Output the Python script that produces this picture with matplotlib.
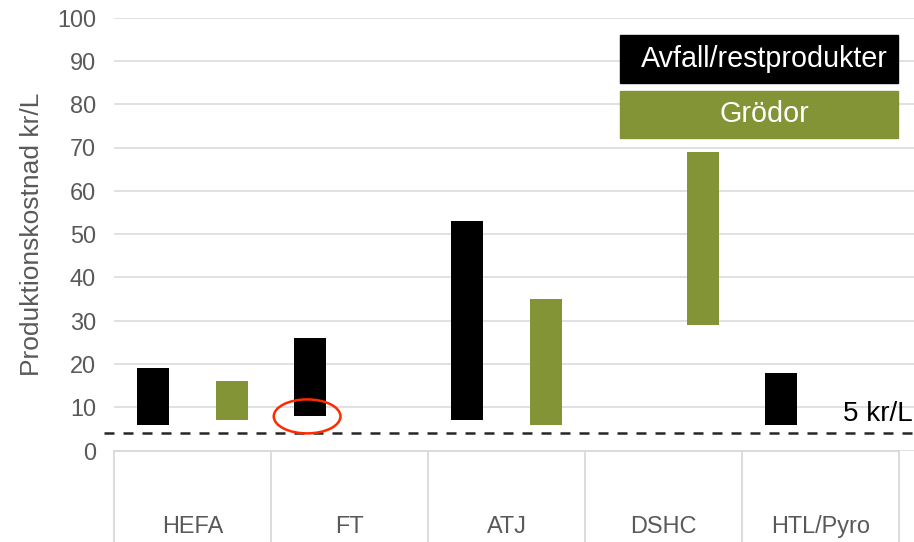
import numpy as np
import matplotlib
matplotlib.use("Agg")
import matplotlib.pyplot as plt
from matplotlib.patches import Ellipse, Rectangle

plt.rcParams['font.family'] = ['Liberation Sans', 'DejaVu Sans']

categories = ["HEFA", "FT", "ATJ", "DSHC", "HTL/Pyro"]
avfall_low = [5.8, 8, 7, np.nan, 5.8]
avfall_high = [19, 26, 53, np.nan, 18]
grodor_low = [7, np.nan, 5.8, 29, np.nan]
grodor_high = [16, np.nan, 35, 69, np.nan]
grans = 4.0  # streckad linje "5 kr/L"

svart = "#000000"
gron = "#839436"
grid = "#d9d9d9"
grå_text = "#595959"

W, H = 914, 542
fig = plt.figure(figsize=(W / 100, H / 100), dpi=100)
# axes: x 114..914 px, y 17.6..450.6 px
ax = fig.add_axes([114 / W, 1 - 450.6 / H, 800 / W, 433 / H])

n = len(categories)
x = np.arange(n)
bw = 32 / 157

lo = np.array(avfall_low)
hi = np.array(avfall_high)
ax.bar(x - 0.25, hi - lo, bottom=lo, width=bw, color=svart, zorder=3)
lo = np.array(grodor_low)
hi = np.array(grodor_high)
ax.bar(x + 0.25, hi - lo, bottom=lo, width=bw, color=gron, zorder=3)

ax.set_xlim(-0.5, -0.5 + 800 / 157)
ax.set_ylim(0, 100)
ax.set_yticks(np.arange(0, 101, 10))
ax.yaxis.grid(True, color=grid, lw=1.1, zorder=0)
ax.tick_params(axis='y', length=0, pad=13, labelsize=16.9, labelcolor=grå_text)
ax.set_xticks([])
for s in ax.spines.values():
    s.set_visible(False)

ax.set_ylabel("Produktionskostnad kr/L", fontsize=19, color=grå_text)
ax.yaxis.set_label_coords(-0.087, 0.5)

# kategori-axel med rutor
tr = ax.get_xaxis_transform()
depth = 92 / 433
ax.plot([-0.5, n - 0.5], [0, 0], color=grid, lw=1.3, transform=tr, clip_on=False)
for b in np.arange(n + 1) - 0.5:
    ax.plot([b, b], [0, -depth], color=grid, lw=1.3, transform=tr, clip_on=False)
for i, c in enumerate(categories):
    ax.text(i, -0.176, c, transform=tr, ha='center', va='center',
            fontsize=16.9, color=grå_text)

# 5 kr/L linje
ax.plot([-0.013, 1], [grans, grans], transform=ax.get_yaxis_transform(),
        color="#262626", lw=1.8, dashes=(4, 3.6), clip_on=False, zorder=4)
ax.text(0.998, grans + 1.5, "5 kr/L", transform=ax.get_yaxis_transform(),
        ha='right', va='bottom', fontsize=20, color="black")

# röd ellips runt FT
ax.add_patch(Ellipse((1 - 0.27, avfall_low[1] - 0.1), 0.425, 7.85, fill=False,
                     edgecolor="#ff2a00", lw=1.8, zorder=5))

# legend-rutor
for y0, y1, col, txt in [(35, 83, svart, "Avfall/restprodukter"),
                         (91, 138, gron, "Grödor")]:
    fig.patches.append(Rectangle((620 / W, 1 - y1 / H), 278 / W, (y1 - y0) / H,
                                 transform=fig.transFigure, color=col))
    fig.text(764 / W, 1 - (y0 + y1) / 2 / H, txt, ha='center', va='center',
             fontsize=20.7, color="white")

fig.savefig("out.png", dpi=100)
